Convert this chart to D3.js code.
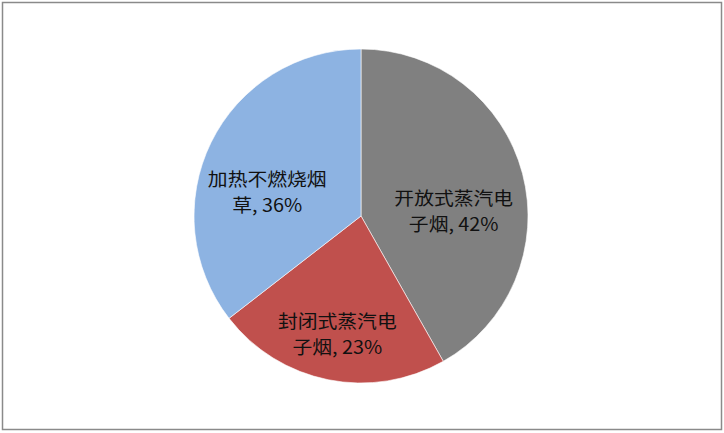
<!doctype html>
<html lang="zh">
<head>
  <meta charset="utf-8">
  <title>pie</title>
  <style>
    body { margin: 0; background: #fff; }
    .label {
      font: 18px "Noto Sans CJK SC", sans-serif;
      fill: #111;
    }
  </style>
</head>
<body>
  <div class="chart"></div>
  <script src="https://d3js.org/d3.v7.min.js"></script>
  <script>
    'use strict';

    const categories = ['开放式蒸汽电子烟', '封闭式蒸汽电子烟', '加热不燃烧烟草'];
    // label lines as wrapped in the picture
    const labelLines = [['开放式蒸汽电', '子烟'], ['封闭式蒸汽电', '子烟'], ['加热不燃烧烟', '草']];
    const shares = [41.8, 22.7, 35.5];
    const colors = ['#808080', '#c0504d', '#8db3e2'];

    const width = 724;
    const height = 433;
    const cx = 361;
    const cy = 216;
    const radius = 167;
    const labelRadius = 100;

    const data = categories.map((c, i) => ({name: c, value: shares[i], lines: labelLines[i]}));
    const total = d3.sum(shares);

    const svg = d3.select('.chart').append('svg')
      .attr('width', width)
      .attr('height', height);

    // chart area frame
    svg.append('rect')
      .attr('x', 2.5)
      .attr('y', 2.5)
      .attr('width', width - 5)
      .attr('height', height - 6)
      .attr('fill', '#fff')
      .attr('stroke', '#8a8a8a')
      .attr('stroke-width', 1.5);

    const pie = d3.pie()
      .sort(null)
      .value(d => d.value);

    const arc = d3.arc()
      .innerRadius(0)
      .outerRadius(radius);

    const labelArc = d3.arc()
      .innerRadius(labelRadius)
      .outerRadius(labelRadius);

    const g = svg.append('g')
      .attr('transform', `translate(${cx},${cy})`);

    const arcs = pie(data);

    g.selectAll('.slice')
      .data(arcs)
      .enter().append('path')
      .attr('class', 'slice')
      .attr('d', arc)
      .attr('fill', (d, i) => colors[i])
      .attr('stroke', '#fff')
      .attr('stroke-width', 0.6);

    // text in the picture is a little wider than tall
    const labels = g.selectAll('.label')
      .data(arcs)
      .enter().append('text')
      .attr('class', 'label')
      .attr('text-anchor', 'middle')
      .attr('transform', d => {
        const [x, y] = labelArc.centroid(d);
        return `translate(${x - 4},${y}) scale(1.1,1)`;
      });

    labels.append('tspan')
      .attr('x', 0)
      .attr('y', 14)
      .text(d => d.data.lines[0]);

    labels.append('tspan')
      .attr('x', 0)
      .attr('y', 40)
      .text(d => d.data.lines[1] + ', ' + Math.round(d.data.value / total * 100) + '%');
  </script>
</body>
</html>
